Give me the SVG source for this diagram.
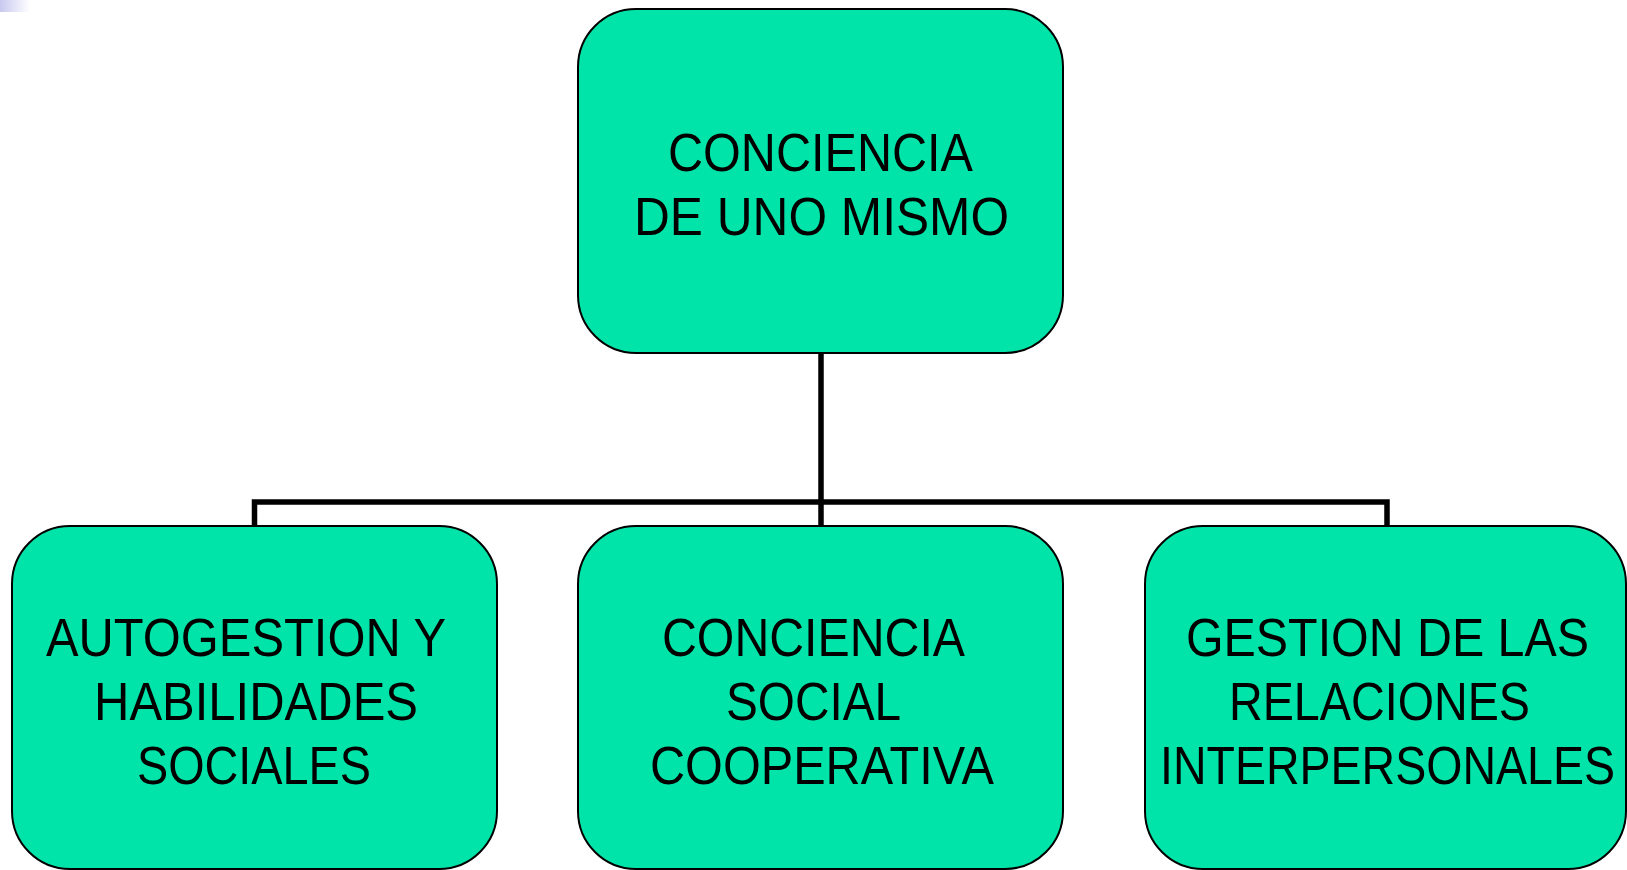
<svg xmlns="http://www.w3.org/2000/svg" width="1627" height="870" viewBox="0 0 1627 870">
<style>
.box{fill:#00E4A9;stroke:#000;stroke-width:2}
.lbl{font-family:"Liberation Sans Narrow","Liberation Sans",Arial,sans-serif;font-size:54px;fill:#000}
.conn{fill:none;stroke:#000;stroke-width:5.5;stroke-linejoin:miter;stroke-linecap:butt}
</style>
<defs>
<linearGradient id="corner" x1="0" y1="0" x2="1" y2="0">
<stop offset="0" stop-color="#c8c8f0"/>
<stop offset="1" stop-color="#ffffff"/>
</linearGradient>
</defs>
<rect x="0" y="0" width="1627" height="870" fill="#fff"/>
<rect x="0" y="0" width="30" height="12" fill="url(#corner)"/>
<g id="connectors">
<path class="conn" d="M821,353 V526"/>
<path class="conn" d="M254.5,526 V502 H1387 V526"/>
</g>
<g id="node-top">
<rect class="box" x="578" y="9" width="485" height="344" rx="58" ry="58"/>
<text class="lbl" x="668" y="171" textLength="305" lengthAdjust="spacingAndGlyphs">CONCIENCIA</text>
<text class="lbl" x="634" y="235" textLength="375" lengthAdjust="spacingAndGlyphs">DE UNO MISMO</text>
</g>
<g id="node-autogestion">
<rect class="box" x="12" y="526" width="485" height="343" rx="58" ry="58"/>
<text class="lbl" x="46" y="656" textLength="400" lengthAdjust="spacingAndGlyphs">AUTOGESTION Y</text>
<text class="lbl" x="94" y="720" textLength="324" lengthAdjust="spacingAndGlyphs">HABILIDADES</text>
<text class="lbl" x="137" y="784" textLength="234" lengthAdjust="spacingAndGlyphs">SOCIALES</text>
</g>
<g id="node-conciencia-social">
<rect class="box" x="578" y="526" width="485" height="343" rx="58" ry="58"/>
<text class="lbl" x="662" y="656" textLength="303" lengthAdjust="spacingAndGlyphs">CONCIENCIA</text>
<text class="lbl" x="726" y="720" textLength="175" lengthAdjust="spacingAndGlyphs">SOCIAL</text>
<text class="lbl" x="650" y="784" textLength="344" lengthAdjust="spacingAndGlyphs">COOPERATIVA</text>
</g>
<g id="node-gestion">
<rect class="box" x="1145" y="526" width="481" height="343" rx="58" ry="58"/>
<text class="lbl" x="1186" y="656" textLength="403" lengthAdjust="spacingAndGlyphs">GESTION DE LAS</text>
<text class="lbl" x="1229" y="720" textLength="301" lengthAdjust="spacingAndGlyphs">RELACIONES</text>
<text class="lbl" x="1160" y="784" textLength="455" lengthAdjust="spacingAndGlyphs">INTERPERSONALES</text>
</g>
</svg>
